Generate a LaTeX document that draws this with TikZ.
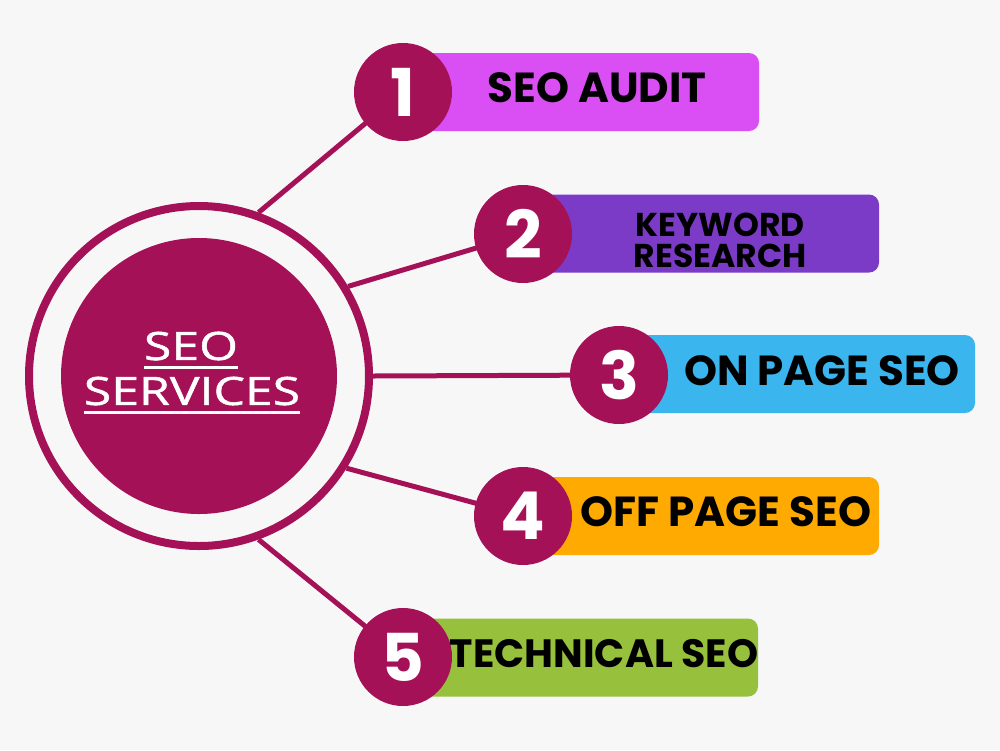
\documentclass[tikz,border=0pt]{standalone}
\usepackage{fontspec}
\setmainfont{Poppins}
\newfontfamily\hubfont{Open Sans}[FakeStretch=1.28,FakeBold=1.2]
\definecolor{bg}{HTML}{F7F7F7}
\definecolor{maroon}{HTML}{A51157}
\definecolor{cA}{HTML}{D94FF3}
\definecolor{cB}{HTML}{7B3BC6}
\definecolor{cC}{HTML}{3BB5EE}
\definecolor{cD}{HTML}{FFAA00}
\definecolor{cE}{HTML}{97C13C}
\tikzset{
  conn/.style={draw=maroon, line width=5pt},
  barbox/.style={rectangle, rounded corners=10pt, minimum width=356pt, minimum height=78pt, anchor=west, inner sep=0pt, outer sep=0pt},
  numcirc/.style={circle, fill=maroon, minimum size=98pt, inner sep=0pt, text=white, font=\fontsize{66}{66}\selectfont\bfseries},
  label/.style={font=\fontsize{42}{42}\selectfont\bfseries, text=black, inner sep=0pt},
  smalllabel/.style={font=\fontsize{33}{31}\selectfont\bfseries, text=black, inner sep=0pt, align=center},
  hubtext/.style={font=\hubfont\fontsize{39}{39}\selectfont, text=white, inner sep=0pt},
  uline/.style={draw=white, line width=3.5pt}
}
\begin{document}
\begin{tikzpicture}[x=1pt,y=-1pt]
\fill[bg] (0,0) rectangle (1000,750);
\useasboundingbox (0,0) rectangle (1000,750);
% hub
\node[circle, draw=maroon, line width=8pt, minimum size=340pt, inner sep=0pt] (hub) at (199,376) {};
\node[circle, fill=maroon, minimum size=276pt, inner sep=0pt] (core) at (199,376) {};
% number circle positions (for connectors)
\coordinate (p1) at (403,92);
\coordinate (p2) at (523,234);
\coordinate (p3) at (619,375);
\coordinate (p4) at (523,516);
\coordinate (p5) at (403,657);
% connectors
\draw[conn] (hub.70) -- (p1);
\draw[conn] (hub.31) -- (p2);
\draw[conn] (hub.0) -- (p3);
\draw[conn] (hub.-32) -- (p4);
\draw[conn] (hub.-70) -- (p5);
% bars
\node[barbox, fill=cA] (b1) at (403,92) {};
\node[barbox, fill=cB] (b2) at (523,233.5) {};
\node[barbox, fill=cC] (b3) at (619,374) {};
\node[barbox, fill=cD] (b4) at (523,516) {};
\node[barbox, fill=cE] (b5) at (402,657.5) {};
% number circles
\node[numcirc] (n1) at (p1) {1};
\node[numcirc] (n2) at (p2) {2};
\node[numcirc] (n3) at (p3) {3};
\node[numcirc] (n4) at (p4) {4};
\node[numcirc] (n5) at (p5) {5};
% labels
\node[label] (t1) at (597,88) {SEO AUDIT};
\node[smalllabel] (t2) at (720,240) {KEYWORD\\RESEARCH};
\node[label] (t3) at (822,371) {ON PAGE SEO};
\node[label] (t4) at (726,512) {OFF PAGE SEO};
\node[label, font=\fontsize{39.5}{40}\selectfont\bfseries] (t5) at (604,654) {TECHNICAL SEO};
% hub text
\node[hubtext] (h1) at (191,346) {SEO};
\node[hubtext] (h2) at (192,391) {SERVICES};
\draw[uline] (h1.south west) ++(0,7) -- ([yshift=-7pt]h1.south east);
\draw[uline] (h2.south west) ++(0,7) -- ([yshift=-7pt]h2.south east);
\end{tikzpicture}
\end{document}
